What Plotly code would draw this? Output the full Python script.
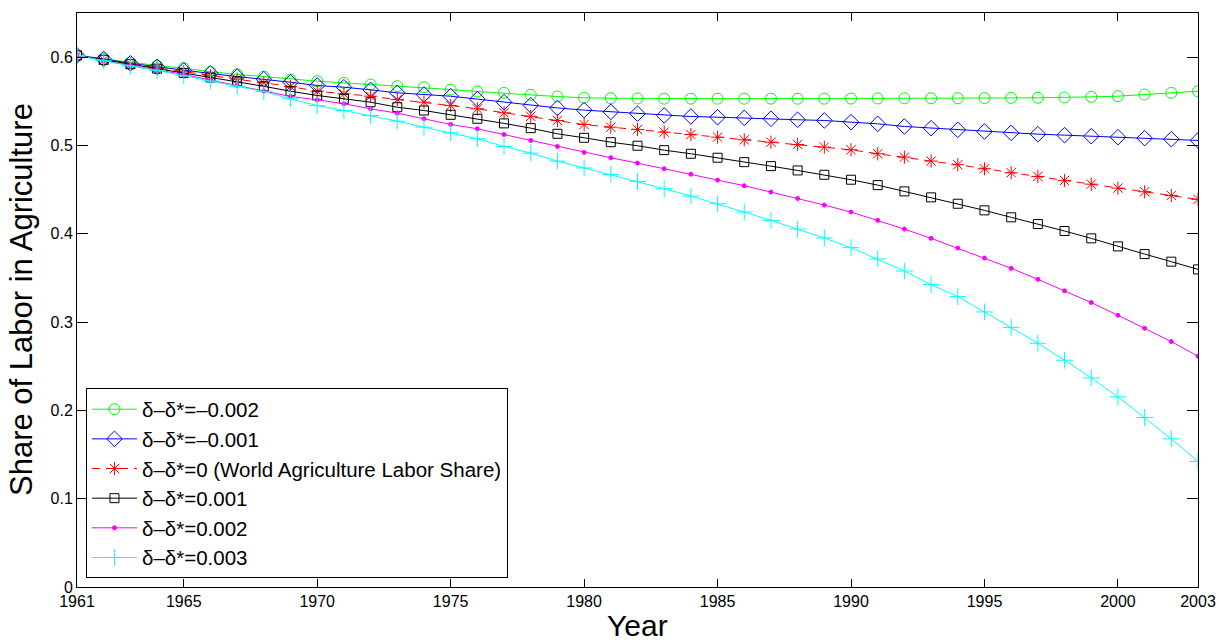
import plotly.graph_objects as go

years = list(range(1961, 2004))

s_m002 = [0.602, 0.598, 0.594, 0.5905, 0.5875, 0.5835, 0.5805, 0.578, 0.5747, 0.5728,
          0.5709, 0.569, 0.5671, 0.566, 0.5633, 0.5611, 0.5596, 0.5573, 0.5554, 0.554,
          0.5535, 0.5532, 0.553, 0.553, 0.553, 0.553, 0.553, 0.553, 0.553, 0.5531,
          0.5532, 0.5534, 0.5535, 0.5535, 0.5536, 0.5538, 0.554, 0.5543, 0.555, 0.5558,
          0.5577, 0.5596, 0.5614]
s_m001 = [0.602, 0.598, 0.593, 0.589, 0.585, 0.5815, 0.578, 0.575, 0.5716, 0.5679,
          0.566, 0.563, 0.5596, 0.5577, 0.5558, 0.5525, 0.549, 0.5455, 0.5425, 0.540,
          0.538, 0.536, 0.534, 0.5328, 0.532, 0.5313, 0.5302, 0.5291, 0.5283, 0.5264,
          0.5245, 0.5215, 0.5196, 0.5177, 0.5158, 0.5143, 0.5128, 0.5117, 0.5105, 0.5094,
          0.5083, 0.5071, 0.5057]
s_0 = [0.602, 0.597, 0.592, 0.588, 0.5835, 0.579, 0.575, 0.571, 0.5667, 0.5614,
       0.5585, 0.5558, 0.552, 0.549, 0.5452, 0.5415, 0.537, 0.533, 0.5283, 0.5237,
       0.5207, 0.5181, 0.5151, 0.5124, 0.5094, 0.5064, 0.5037, 0.5011, 0.4981, 0.4951,
       0.4906, 0.4868, 0.4823, 0.4782, 0.4736, 0.4691, 0.4649, 0.4604, 0.4562, 0.4517,
       0.4476, 0.4434, 0.4389]
s_p001 = [0.602, 0.597, 0.592, 0.587, 0.582, 0.577, 0.5725, 0.567, 0.5614, 0.5566,
          0.5528, 0.549, 0.5433, 0.5396, 0.5347, 0.5302, 0.525, 0.5196, 0.5132, 0.5087,
          0.5037, 0.4997, 0.4947, 0.4906, 0.4861, 0.4811, 0.4766, 0.4717, 0.4668, 0.4612,
          0.4551, 0.448, 0.4412, 0.434, 0.4265, 0.4186, 0.411, 0.4031, 0.3948, 0.3857,
          0.377, 0.3684, 0.3597]
s_p002 = [0.602, 0.596, 0.5905, 0.5855, 0.5805, 0.574, 0.568, 0.5615, 0.5555, 0.5517,
          0.5472, 0.5415, 0.5366, 0.5302, 0.5238, 0.5189, 0.5124, 0.5057, 0.4989, 0.4921,
          0.4861, 0.48, 0.4736, 0.4675, 0.4608, 0.4544, 0.4472, 0.44, 0.4325, 0.4246,
          0.4152, 0.4053, 0.3948, 0.3838, 0.3725, 0.3609, 0.3484, 0.3354, 0.3221, 0.3077,
          0.293, 0.2779, 0.2613]
s_p003 = [0.602, 0.596, 0.590, 0.585, 0.579, 0.573, 0.567, 0.561, 0.5528, 0.5452,
          0.5396, 0.5339, 0.5275, 0.5207, 0.5144, 0.5076, 0.4989, 0.4913, 0.4823, 0.4745,
          0.4672, 0.4593, 0.451, 0.4427, 0.434, 0.4246, 0.4152, 0.4053, 0.3952, 0.3843,
          0.3715, 0.3578, 0.3424, 0.3288, 0.3115, 0.294, 0.276, 0.2568, 0.2368, 0.2153,
          0.192, 0.1678, 0.1422]

names = ["δ–δ*=–0.002", "δ–δ*=–0.001", "δ–δ*=0 (World Agriculture Labor Share)",
         "δ–δ*=0.001", "δ–δ*=0.002", "δ–δ*=0.003"]
xtick_vals = [1961, 1965, 1970, 1975, 1980, 1985, 1990, 1995, 2000, 2003]
ytick_vals = [0, 0.1, 0.2, 0.3, 0.4, 0.5, 0.6]
x_title = "Year"
y_title = "Share of Labor in Agriculture"

series = [s_m002, s_m001, s_0, s_p001, s_p002, s_p003]
colors = ["#00FF00", "#0000FF", "#FF0000", "#000000", "#FF00FF", "#00FFFF"]
symbols = ["circle-open", "diamond-open", "asterisk-open", "square-open", "circle", "cross-thin-open"]
sizes = [11, 12, 11, 9, 4, 12]
dashes = ["solid", "solid", "8px,6px", "solid", "solid", "solid"]

fig = go.Figure()
for i, (ys, nm) in enumerate(zip(series, names)):
    fig.add_trace(go.Scatter(
        x=years, y=ys, name=nm, mode="lines+markers",
        line=dict(color=colors[i], width=1, dash=dashes[i]),
        marker=dict(symbol=symbols[i], size=sizes[i], color=colors[i],
                    line=dict(color=colors[i], width=1)),
    ))

fig.update_layout(
    width=1220, height=642,
    margin=dict(l=77, r=22, t=13, b=55, autoexpand=False),
    paper_bgcolor="white", plot_bgcolor="white",
    font=dict(family="Liberation Sans, Arial, sans-serif", color="black", size=16),
    showlegend=True,
    legend=dict(x=0.008, y=0.015, xanchor="left", yanchor="bottom",
                bordercolor="black", borderwidth=1, bgcolor="white",
                font=dict(size=20.5), itemwidth=45),
    annotations=[
        dict(text=x_title, xref="paper", yref="paper", x=0.5, y=0, xanchor="center",
             yanchor="middle", yshift=-38, showarrow=False, font=dict(size=30)),
        dict(text=y_title, xref="paper", yref="paper", x=0, y=0.5, xanchor="center",
             yanchor="middle", xshift=-56, textangle=-90, showarrow=False,
             font=dict(size=31)),
    ],
)
fig.update_xaxes(
    range=[1961, 2003], tickvals=xtick_vals, ticks="inside", ticklen=8,
    tickcolor="black", showline=True, linecolor="black", linewidth=1, mirror="ticks",
    showgrid=False, zeroline=False, tickfont=dict(size=16), automargin=False,
)
fig.update_yaxes(
    range=[0, 0.65], tickvals=ytick_vals, ticks="inside", ticklen=11,
    tickcolor="black", showline=True, linecolor="black", linewidth=1, mirror="ticks",
    showgrid=False, zeroline=False, tickfont=dict(size=16), automargin=False,
)

fig.write_html("out.html")
